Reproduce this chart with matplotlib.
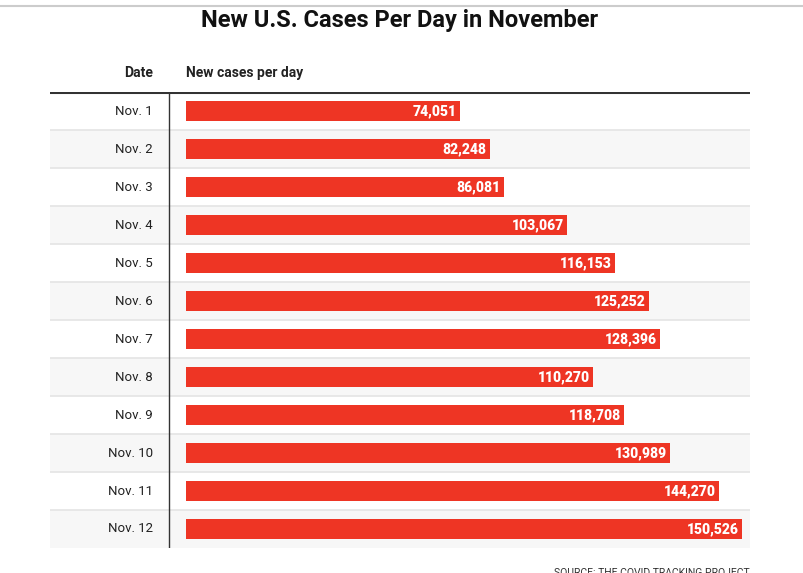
import matplotlib.pyplot as plt
import matplotlib.transforms as mtransforms

# data
dates = ['Nov. 1', 'Nov. 2', 'Nov. 3', 'Nov. 4', 'Nov. 5', 'Nov. 6',
         'Nov. 7', 'Nov. 8', 'Nov. 9', 'Nov. 10', 'Nov. 11', 'Nov. 12']
cases = [74051, 82248, 86081, 103067, 116153, 125252,
         128396, 110270, 118708, 130989, 144270, 150526]

plt.rcParams['font.family'] = ['Roboto', 'DejaVu Sans']

W, H = 804, 573
fig = plt.figure(figsize=(W / 100, H / 100), dpi=100)

# table area in pixels
left_px, right_px, top_px, bot_px = 50, 750, 92, 548
zero_px = 186
scale = (742 - zero_px) / max(cases)   # px per case

ax = fig.add_axes([left_px / W, (H - bot_px) / H,
                   (right_px - left_px) / W, (bot_px - top_px) / H])
ax.set_xlim(-(zero_px - left_px) / scale, (right_px - zero_px) / scale)
ax.set_ylim(len(dates) - 0.5, -0.5)
ax.axis('off')

red = '#ee3524'
for i, (d, v) in enumerate(zip(dates, cases)):
    if i % 2 == 1:
        ax.axhspan(i - 0.5, i + 0.5, color='#f7f7f7', lw=0, zorder=0)
    if i > 0:
        ax.axhline(i - 0.5, color='#e4e4e4', lw=1.2, zorder=1)
    ax.barh(i, v, height=0.53, color=red, zorder=2)
    ax.text(v - 3 / scale, i, f'{v:,}', ha='right', va='center',
            color='white', fontsize=10, fontweight='black', zorder=3)

trans = mtransforms.blended_transform_factory(ax.transAxes, ax.transData)
for i, d in enumerate(dates):
    ax.text((153 - left_px) / (right_px - left_px), i, d, transform=trans,
            ha='right', va='center', fontsize=9.5, color='#222222')

# vertical divider and header rule
ax.axvline(-(zero_px - 169) / scale, color='#333333', lw=1, zorder=4)
ax.axhline(-0.5, color='#333333', lw=2.2, zorder=4)

# headers
fig.text(153 / W, 1 - 73 / H, 'Date', ha='right', va='center',
         fontsize=10, fontweight='bold', color='#222222')
fig.text(zero_px / W, 1 - 73 / H, 'New cases per day', ha='left', va='center',
         fontsize=10, fontweight='bold', color='#222222')

# title and top rule
fig.add_artist(plt.Line2D([0, 1], [1 - 6 / H, 1 - 6 / H], color='#cccccc', lw=1.5))
fig.text(400 / W, 1 - 20 / H, 'New U.S. Cases Per Day in November',
         ha='center', va='center', fontsize=17, fontweight='bold', color='#111111')

# source (cut off at bottom, as in the original)
fig.text(750 / W, (H - 576) / H, 'SOURCE: THE COVID TRACKING PROJECT',
         ha='right', va='baseline', fontsize=7.5, color='#333333')

fig.savefig('out.png', dpi=100)
